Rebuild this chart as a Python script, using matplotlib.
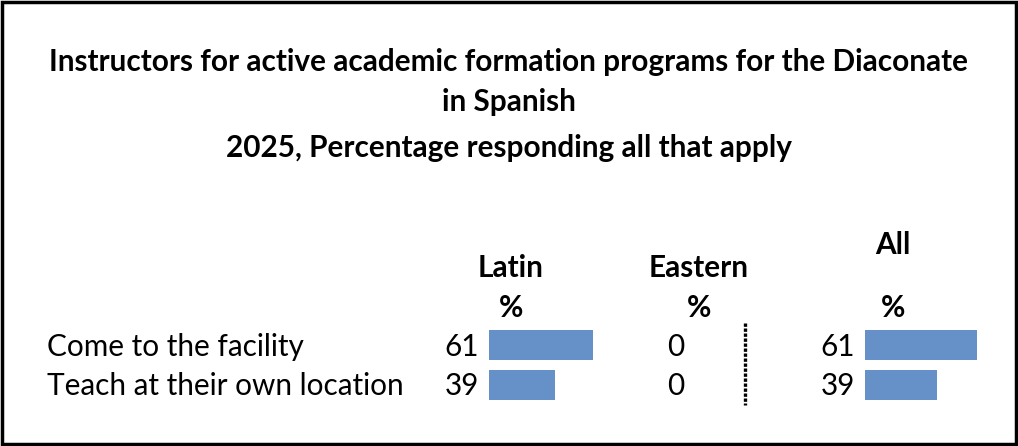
import matplotlib.pyplot as plt
from matplotlib.patches import Rectangle
from matplotlib.lines import Line2D

title_lines = ["Instructors for active academic formation programs for the Diaconate",
               "in Spanish",
               "2025, Percentage responding all that apply"]
row_labels = ["Come to the facility", "Teach at their own location"]
latin_pct = [61, 39]
eastern_pct = [0, 0]
all_pct = [61, 39]

W, H = 1018, 446
fig = plt.figure(figsize=(W / 100, H / 100), dpi=100)
plt.rcParams['font.family'] = ['Lato', 'DejaVu Sans']
FS = 21.4

# background axes in pixel coordinates for text and frame
bg = fig.add_axes([0, 0, 1, 1])
bg.set_xlim(0, W)
bg.set_ylim(H, 0)
bg.axis('off')
bg.add_patch(Rectangle((2, 2), W - 4, H - 4, fill=False, lw=2.5, ec='black'))

# title
for y, line in zip([62, 102, 148], title_lines):
    bg.text(509, y, line, ha='center', va='center', fontsize=FS, fontweight='bold')

# column headers
bg.text(511, 268, "Latin", ha='center', va='center', fontsize=FS, fontweight='bold')
bg.text(699, 268, "Eastern", ha='center', va='center', fontsize=FS, fontweight='bold')
bg.text(893, 245, "All", ha='center', va='center', fontsize=FS, fontweight='bold')
for x in [511, 699, 893]:
    bg.text(x, 308, "%", ha='center', va='center', fontsize=FS, fontweight='bold')

row_y = [347, 386]
for i, y in enumerate(row_y):
    bg.text(47, y, row_labels[i], ha='left', va='center', fontsize=FS)
    bg.text(479, y, str(latin_pct[i]), ha='right', va='center', fontsize=FS)
    bg.text(676, y, str(eastern_pct[i]), ha='center', va='center', fontsize=FS)
    bg.text(855, y, str(all_pct[i]), ha='right', va='center', fontsize=FS)

# dotted separator
bg.add_line(Line2D([745, 745], [323, 405], color='black', lw=2.4, ls=(0, (1, 0.5))))


def bar_axes(left_px, px_per_100):
    ax = fig.add_axes([left_px / W, 1 - 405 / H, px_per_100 / W, 80 / H])
    ax.set_xlim(0, 100)
    ax.set_ylim(1.5, -0.5)
    ax.axis('off')
    return ax


ax_latin = bar_axes(489, 170.5)
ax_latin.barh(range(len(latin_pct)), latin_pct, height=0.75, color='#6690C8')

ax_all = bar_axes(865, 183.6)
ax_all.barh(range(len(all_pct)), all_pct, height=0.75, color='#6690C8')

fig.savefig("out.png", dpi=100)
